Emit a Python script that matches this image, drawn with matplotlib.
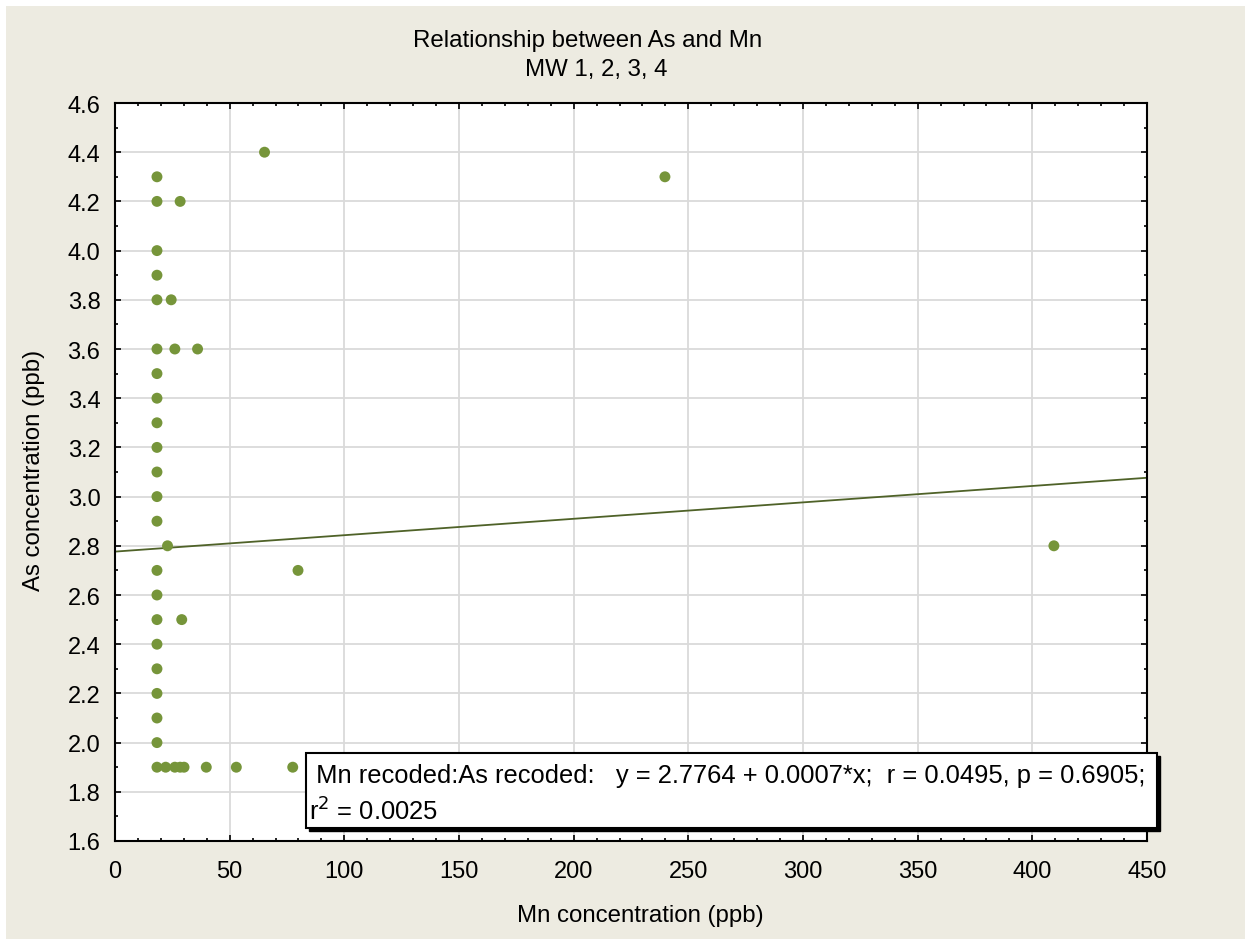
#scatter of As vs Mn with the regression line, MW 1-4

import numpy as np
import matplotlib.pyplot as plt
from matplotlib.patches import Rectangle

# points in the column at the recoded detection limit
mn_col = 18.3
as_col = [4.3, 4.2, 4.0, 3.9, 3.8, 3.6, 3.5, 3.4, 3.3, 3.2, 3.1, 3.0, 2.9,
          2.7, 2.6, 2.5, 2.4, 2.3, 2.2, 2.1, 2.0, 1.9]

# the rest of the points
mn_other = [65.2, 239.8, 28.4, 24.5, 26.1, 36.0, 22.9, 79.8, 409.4, 29.1,
            22.1, 26.1, 28.4, 30.1, 39.8, 52.9, 77.5]
as_other = [4.4, 4.3, 4.2, 3.8, 3.6, 3.6, 2.8, 2.7, 2.8, 2.5,
            1.9, 1.9, 1.9, 1.9, 1.9, 1.9, 1.9]

mn = np.array([mn_col] * len(as_col) + mn_other)
as_ = np.array(as_col + as_other)

intercept = 2.7764
slope = 0.000667

W, H = 1251, 945
plt.rcParams['font.family'] = ['Liberation Sans', 'DejaVu Sans']
fig = plt.figure(figsize=(W / 100, H / 100), dpi=100, facecolor='white')
fig.add_artist(Rectangle((6 / W, 1 - 940 / H), 1239 / W, 933 / H, transform=fig.transFigure,
                         facecolor='#EDEBE1', edgecolor='none', zorder=-10))

ax = fig.add_axes([115 / W, 1 - 842 / H, 1032 / W, 738 / H])
ax.set_facecolor('white')

ax.scatter(mn, as_, s=62, color='#76953A', edgecolors='none', zorder=3)
xl = np.array([0, 450])
ax.plot(xl, intercept + slope * xl, color='#4F6228', lw=1.3, zorder=2)

ax.set_xlim(0, 450)
ax.set_ylim(1.6, 4.6)
ax.set_xticks(np.arange(0, 451, 50))
ax.set_yticks(np.arange(1.6, 4.61, 0.2))
ax.set_yticklabels([f'{v:.1f}' for v in np.arange(1.6, 4.61, 0.2)])
ax.set_xticks(np.arange(0, 451, 10), minor=True)
ax.set_yticks(np.arange(1.6, 4.61, 0.1), minor=True)
ax.tick_params(which='both', direction='in', top=True, right=True, labelsize=17, width=1.2)
ax.tick_params(which='major', length=4)
ax.tick_params(which='minor', length=2.5)
ax.tick_params(axis='x', which='major', pad=14)
ax.tick_params(axis='y', which='major', pad=10.5)
ax.grid(True, which='major', color='#DADADA', lw=1.3, zorder=0)
ax.set_axisbelow(True)
for sp in ax.spines.values():
    sp.set_linewidth(1.5)

fig.text(588 / W, 1 - 41 / H, 'Relationship between As and Mn', ha='center', va='center', fontsize=17.3)
fig.text(596 / W, 1 - 70 / H, 'MW 1, 2, 3, 4', ha='center', va='center', fontsize=17.3)
fig.text(640 / W, 1 - 916 / H, 'Mn concentration (ppb)', ha='center', va='center', fontsize=17.3)
fig.text(34 / W, 1 - 470 / H, 'As concentration (ppb)', ha='center', va='center',
         rotation=90, fontsize=17.3)

# regression box with shadow, sticks out past the axes
bx0, by0, bx1, by1 = 306, 754, 1157, 829
fig.add_artist(Rectangle(((bx0 + 3) / W, 1 - (by1 + 3) / H), (bx1 - bx0) / W, (by1 - by0) / H,
                         transform=fig.transFigure, facecolor='black', edgecolor='black', zorder=5))
fig.add_artist(Rectangle((bx0 / W, 1 - by1 / H), (bx1 - bx0) / W, (by1 - by0) / H,
                         transform=fig.transFigure, facecolor='white', edgecolor='black',
                         lw=1.5, zorder=6))
fig.text(309 / W, 1 - 776 / H,
         ' Mn recoded:As recoded:   y = 2.7764 + 0.0007*x;  r = 0.0495, p = 0.6905;',
         ha='left', va='center', fontsize=18.4, zorder=7)
fig.text(309 / W, 1 - 811 / H, r'r$^2$ = 0.0025', ha='left', va='center', fontsize=18.4,
         zorder=7)

fig.savefig('out.png', dpi=100, facecolor=fig.get_facecolor())
